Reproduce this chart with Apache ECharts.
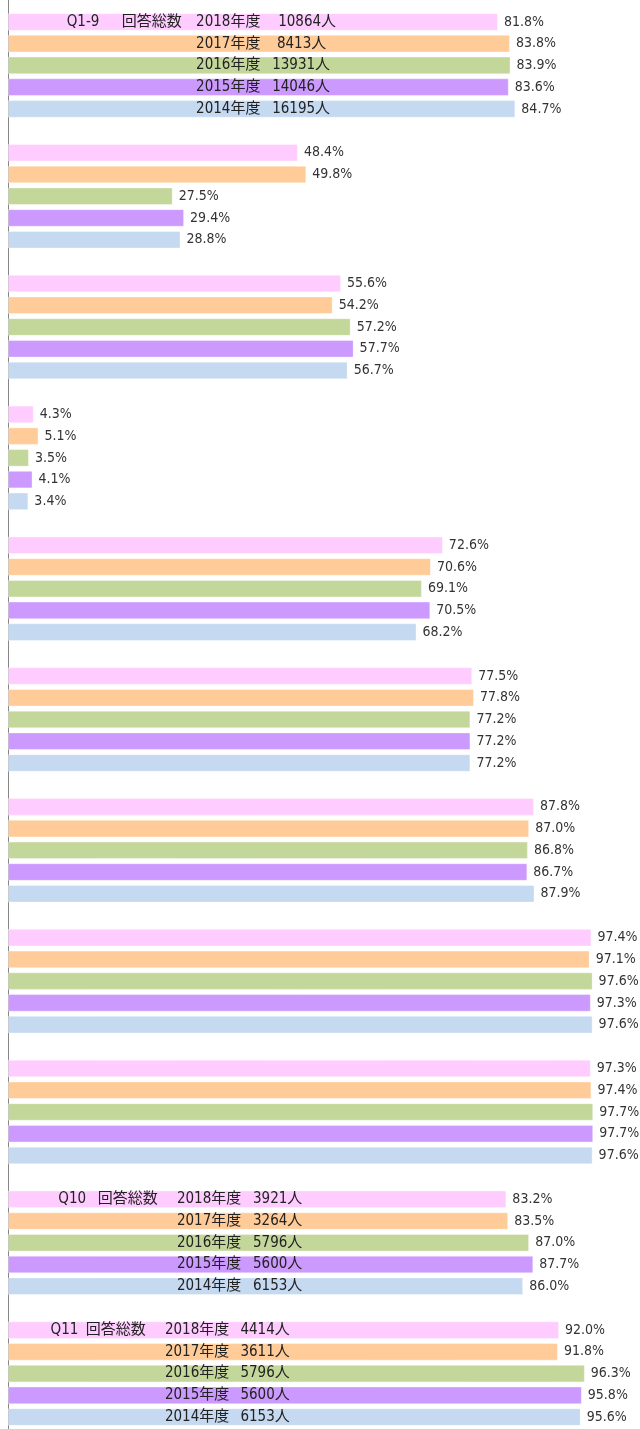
<!DOCTYPE html>
<html>
<head>
<meta charset="utf-8">
<script src="https://cdn.jsdelivr.net/npm/echarts@6/dist/echarts.min.js"></script>
<style>
  html, body { margin: 0; padding: 0; background: #fff; }
  #chart { width: 640px; height: 1429px; }
</style>
</head>
<body>
<div id="chart"></div>
<script>
// categories (one group of bars per question)
const questions = ['Q1', 'Q2', 'Q3', 'Q4', 'Q5', 'Q6', 'Q7', 'Q8', 'Q9', 'Q10', 'Q11']
const years = ['2018年度', '2017年度', '2016年度', '2015年度', '2014年度']

// rates (%) per year, one value per question
const rate2018 = [81.8, 48.4, 55.6, 4.3, 72.6, 77.5, 87.8, 97.4, 97.3, 83.2, 92.0]
const rate2017 = [83.8, 49.8, 54.2, 5.1, 70.6, 77.8, 87.0, 97.1, 97.4, 83.5, 91.8]
const rate2016 = [83.9, 27.5, 57.2, 3.5, 69.1, 77.2, 86.8, 97.6, 97.7, 87.0, 96.3]
const rate2015 = [83.6, 29.4, 57.7, 4.1, 70.5, 77.2, 86.7, 97.3, 97.7, 87.7, 95.8]
const rate2014 = [84.7, 28.8, 56.7, 3.4, 68.2, 77.2, 87.9, 97.6, 97.6, 86.0, 95.6]

// respondents (人) per year, 2018 -> 2014
const respQ1to9 = [10864, 8413, 13931, 14046, 16195]
const respQ10 = [3921, 3264, 5796, 5600, 6153]
const respQ11 = [4414, 3611, 5796, 5600, 6153]

const colors = ['#FFCCFF', '#FFCC99', '#C4D79B', '#CC99FF', '#C5D9F1']
const rates = [rate2018, rate2017, rate2016, rate2015, rate2014]

const BAR_W = 17.6
const BAR_GAP = 0.235
const PITCH = BAR_W * (1 + BAR_GAP)
const FONT = '"DejaVu Sans Condensed", "Noto Sans CJK JP", sans-serif'

// where the respondent notes sit inside the bars (x in axis units)
const noteGroups = [
    { cat: 0, title: 'Q1-9', resp: respQ1to9, titleX: 9.8, headX: 19.0, yearX: 31.4, numX: [45.1, 44.9, 44.1, 44.1, 44.1] },
    { cat: 9, title: 'Q10', resp: respQ10, titleX: 8.4, headX: 15.0, yearX: 28.2, numX: [40.9, 40.9, 40.9, 40.9, 40.9] },
    { cat: 10, title: 'Q11', resp: respQ11, titleX: 7.1, headX: 13.0, yearX: 26.2, numX: [38.8, 38.8, 38.8, 38.8, 38.8] },
]

let notes = []
noteGroups.forEach(g => {
    notes.push({ x: g.titleX, cat: g.cat, row: 0, text: g.title })
    notes.push({ x: g.headX, cat: g.cat, row: 0, text: '回答総数' })
    years.forEach((y, i) => {
        notes.push({ x: g.yearX, cat: g.cat, row: i, text: y })
        notes.push({ x: g.numX[i], cat: g.cat, row: i, text: g.resp[i] + '人' })
    })
})

const barSeries = years.map((y, i) => ({
    name: y,
    type: 'bar',
    data: rates[i],
    barWidth: BAR_W,
    barGap: (BAR_GAP * 100) + '%',
    itemStyle: {
        color: colors[i],
        borderColor: 'rgba(255,255,255,0.35)',
        borderWidth: 1
    },
    label: {
        show: true,
        position: 'right',
        distance: 6,
        color: '#333',
        fontSize: 14,
        fontFamily: FONT,
        formatter: p => p.value.toFixed(1) + '%'
    },
    silent: true
}))

const noteSeries = {
    type: 'custom',
    silent: true,
    z: 5,
    data: notes.map(n => [n.x, n.cat]),
    renderItem: (params, api) => {
        const n = notes[params.dataIndex]
        const pt = api.coord([api.value(0), api.value(1)])
        return {
            type: 'text',
            x: pt[0],
            y: pt[1] + (n.row - 2) * PITCH,
            style: {
                text: n.text,
                fill: '#222',
                fontSize: 15,
                fontFamily: FONT,
                verticalAlign: 'middle',
                align: 'left'
            }
        }
    }
}

const chart = echarts.init(document.getElementById('chart'))
chart.setOption({
    animation: false,
    grid: { left: 8, width: 599, top: 0, height: 1439, containLabel: false, outerBoundsMode: 'none' },
    xAxis: { type: 'value', min: 0, max: 100, show: false },
    yAxis: {
        type: 'category',
        data: questions,
        inverse: true,
        axisLine: { show: true, lineStyle: { color: '#868686', width: 1 } },
        axisTick: { show: false },
        axisLabel: { show: false },
        splitLine: { show: false }
    },
    series: [...barSeries, noteSeries]
})
</script>
</body>
</html>
